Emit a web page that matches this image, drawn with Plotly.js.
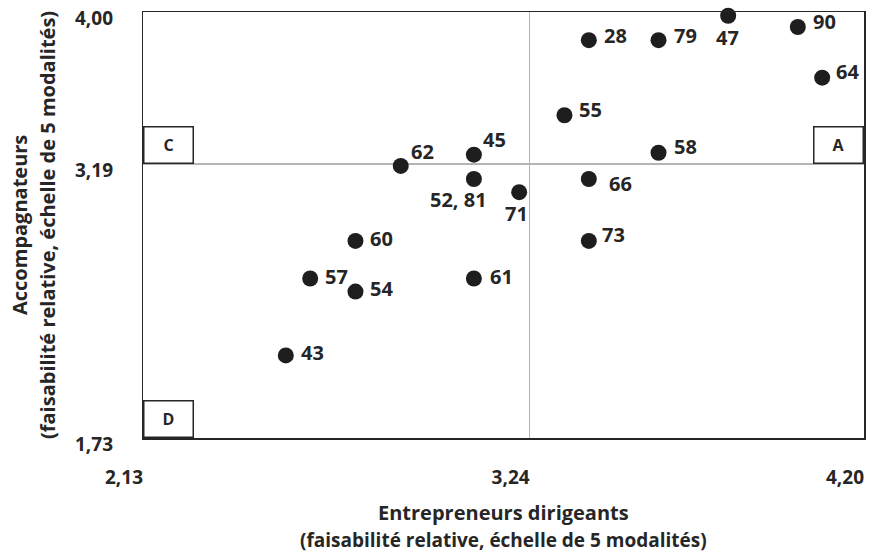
<!DOCTYPE html>
<html>
<head>
<meta charset="utf-8">
<script src="https://cdn.plot.ly/plotly-3.0.1.min.js"></script>
<style>html,body{margin:0;padding:0;background:#fff;}#chart{width:869px;height:555px;}</style>
</head>
<body>
<div id="chart"></div>
<script>
// Data
const pointLabels = ["28","79","47","90","64","55","58","45","62","52, 81","71","66","73","60","57","54","61","43"];
const xValues = [3.41,3.61,3.81,4.01,4.08,3.34,3.61,3.08,2.87,3.08,3.21,3.41,3.41,2.74,2.61,2.74,3.08,2.54];
const yValues = [3.85,3.85,3.98,3.92,3.65,3.45,3.25,3.24,3.18,3.11,3.04,3.11,2.78,2.78,2.58,2.51,2.58,2.17];
const xTicks = [2.13, 3.24, 4.20];
const xTickText = ["2,13","3,24","4,20"];
const yTicks = [1.73, 3.19, 4.00];
const yTickText = ["1,73","3,19","4,00"];
const quadrantLabels = ["A","C","D"];
const xTitleLines = ["Entrepreneurs dirigeants","(faisabilité relative, échelle de 5 modalités)"];
const yTitleLines = ["Accompagnateurs","(faisabilité relative, échelle de 5 modalités)"];

// Label placement (style)
const labelStyle = {
  "28":{a:"left",dx:13,dy:5}, "79":{a:"left",dx:13,dy:5}, "47":{a:"center",dx:-1,dy:-22},
  "90":{a:"left",dx:13,dy:6}, "64":{a:"left",dx:12,dy:6}, "55":{a:"left",dx:13,dy:6},
  "58":{a:"left",dx:13,dy:6}, "45":{a:"left",dx:7,dy:15}, "62":{a:"left",dx:8,dy:14},
  "52, 81":{a:"center",dx:-15,dy:-20}, "71":{a:"center",dx:-3,dy:-21}, "66":{a:"left",dx:18,dy:-4},
  "73":{a:"left",dx:11,dy:6}, "60":{a:"left",dx:13,dy:2}, "57":{a:"left",dx:13,dy:2},
  "54":{a:"left",dx:13,dy:3}, "61":{a:"left",dx:14,dy:2}, "43":{a:"left",dx:13,dy:3}
};

const FONT = "'Open Sans', 'Noto Sans', sans-serif";
const TXT = "#262626";
const f = (size)=>({family:FONT, size:size, color:TXT, weight:"bold"});

const annotations = pointLabels.map((t,i)=>{
  const s = labelStyle[t];
  return {x:xValues[i], y:yValues[i], xref:"x", yref:"y", text:t, showarrow:false,
    xanchor:s.a, yanchor:"middle", xshift:s.dx, yshift:s.dy, font:f(20)};
});

// Y tick labels (drawn as annotations, shifted slightly below their grid value)
yTicks.forEach((v,i)=>{
  annotations.push({xref:"paper", yref:"y", x:0, y:v, text:yTickText[i], showarrow:false,
    xanchor:"right", yanchor:"middle", xshift:-28, yshift:-6, font:f(19)});
});

// Quadrant boxes
const xmin = xTicks[0], xmax = xTicks[2], ymin = yTicks[0], ymid = yTicks[1];
const boxPos = {"A":{x:xmax, y:ymid, xa:"right", ya:"bottom"},
                "C":{x:xmin, y:ymid, xa:"left", ya:"bottom"},
                "D":{x:xmin, y:ymin, xa:"left", ya:"bottom"}};
quadrantLabels.forEach(q=>{
  const p = boxPos[q];
  annotations.push({x:p.x, y:p.y, xref:"x", yref:"y", text:q, showarrow:false,
    xanchor:p.xa, yanchor:p.ya, width:48, height:35, borderpad:0, bordercolor:"#262626", borderwidth:1.5,
    bgcolor:"#ffffff", font:f(16)});
});

// Axis titles as annotations (two lines each)
annotations.push({xref:"paper", yref:"paper", x:0.5, y:0, xanchor:"center", yanchor:"middle", yshift:-74,
  text:xTitleLines[0], showarrow:false, font:f(20)});
annotations.push({xref:"paper", yref:"paper", x:0.5, y:0, xanchor:"center", yanchor:"middle", yshift:-102,
  text:xTitleLines[1], showarrow:false, font:f(19)});
annotations.push({xref:"paper", yref:"paper", x:0, y:0.5, xanchor:"center", yanchor:"middle", xshift:-124,
  textangle:-90, text:yTitleLines[0], showarrow:false, font:f(20)});
annotations.push({xref:"paper", yref:"paper", x:0, y:0.5, xanchor:"center", yanchor:"middle", xshift:-96,
  textangle:-90, text:yTitleLines[1], showarrow:false, font:f(20)});

const trace = {
  type:"scatter", mode:"markers", x:xValues, y:yValues, text:pointLabels,
  marker:{size:16, color:"#1e1e1e"}, cliponaxis:false, hoverinfo:"text"
};

const layout = {
  width:869, height:555,
  margin:{l:143, r:5, t:12, b:117, pad:0},
  paper_bgcolor:"#ffffff", plot_bgcolor:"#ffffff",
  showlegend:false,
  font:{family:FONT, color:TXT},
  xaxis:{range:[xTicks[0], xTicks[2]], tickvals:xTicks, ticktext:xTickText,
    showgrid:true, gridcolor:"#b4b4b4", gridwidth:1.5, zeroline:false,
    showline:true, mirror:true, linecolor:"#262626", linewidth:1.5,
    ticks:"", ticklabelstandoff:22, ticklabelshift:-19, tickfont:f(19)},
  yaxis:{range:[yTicks[0], yTicks[2]], tickvals:yTicks, showticklabels:false,
    showgrid:true, gridcolor:"#b4b4b4", gridwidth:1.5, zeroline:false,
    showline:true, mirror:true, linecolor:"#262626", linewidth:1.5, ticks:""},
  annotations:annotations
};

Plotly.newPlot("chart", [trace], layout, {displayModeBar:false, staticPlot:true});
</script>
</body>
</html>
